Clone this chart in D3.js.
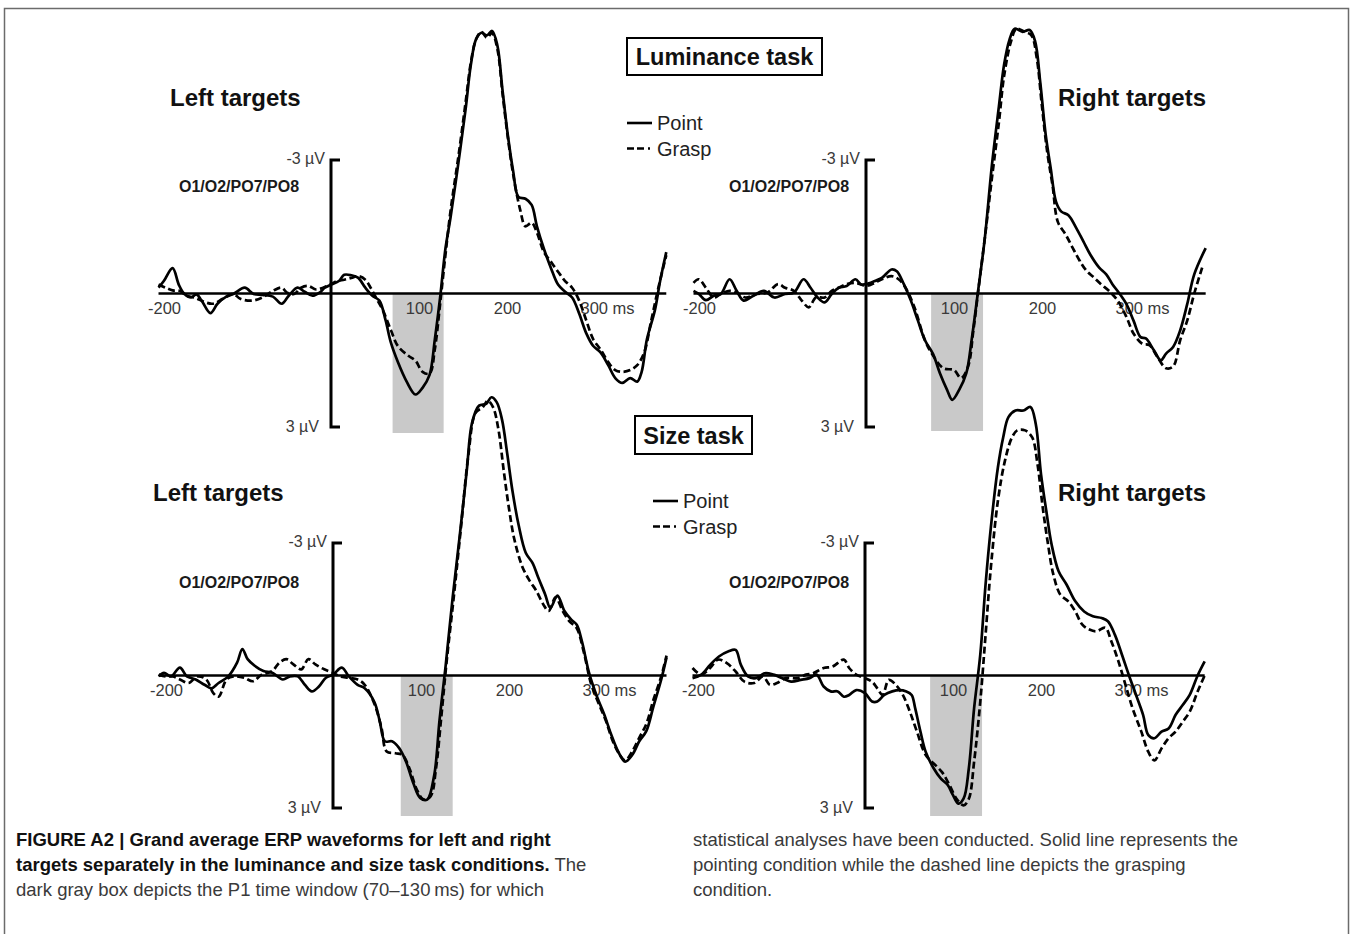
<!DOCTYPE html>
<html>
<head>
<meta charset="utf-8">
<script src="https://cdn.jsdelivr.net/npm/d3@7"></script>
<style>
  html, body { margin: 0; padding: 0; background: #fff; }
  svg { display: block; }
  text { font-family: "Liberation Sans", Arial, Helvetica, sans-serif; }
</style>
</head>
<body>
<svg id="chart" width="1352" height="934"></svg>
<script>
// ---------------- DATA (time in ms, amplitude in µV; negative plotted up) ----------------
const tickValues = [-200, 100, 200, 300];
const tickLabels = ["-200", "100", "200", "300 ms"];
const ampTicks = [-3, 3];
const ampLabels = ["-3 µV", "3 µV"];
const conditions = ["Point", "Grasp"];
const taskTitles = ["Luminance task", "Size task"];
const sideTitles = ["Left targets", "Right targets"];
const electrodeLabel = "O1/O2/PO7/PO8";
// P1 window (70–130 ms) as drawn in each panel
const shadeWindows = [[70, 128], [74, 133], [77, 136], [74, 133]];

const lumLeftPoint = [[-196,-0.13],[-190,-0.28],[-180,-0.57],[-173,-0.2],[-167,0],[-159,0.09],[-153,0.02],[-147,0.16],[-137,0.44],[-129,0.23],[-119,0.07],[-111,0.01],[-98,-0.13],[-88,0.01],[-78,0.03],[-66,0.07],[-56,0.23],[-48,0.05],[-38,-0.13],[-30,-0.04],[-21,0.05],[-13,-0.02],[-7,-0.13],[0,-0.2],[9,-0.28],[15,-0.42],[23,-0.41],[31,-0.35],[39,-0.13],[47,0.05],[55,0.16],[62,0.6],[68,1.1],[76,1.54],[86,1.98],[96,2.27],[104,2.12],[112,1.83],[118,1.03],[124,0.09],[130,-1.0],[136,-1.73],[145,-2.97],[153,-4.15],[159,-5.15],[165,-5.72],[171,-5.86],[177,-5.8],[183,-5.9],[189,-5.58],[195,-4.55],[201,-3.55],[207,-2.75],[213,-2.17],[221,-2.13],[228,-1.99],[234,-1.51],[242,-1.0],[250,-0.57],[258,-0.2],[266,-0.04],[274,0.09],[282,0.45],[290,0.89],[298,1.18],[306,1.32],[315,1.61],[323,1.9],[331,2.01],[340,1.9],[348,1.98],[353,1.76],[359,1.03],[368,0.38],[374,-0.28],[381,-0.93]];
const lumLeftGrasp = [[-196,-0.2],[-188,-0.13],[-180,-0.07],[-172,-0.06],[-164,0.05],[-156,0.09],[-135,0.23],[-123,0.12],[-111,0.01],[-103,0.12],[-90,0.16],[-78,0.09],[-66,-0.06],[-56,-0.13],[-50,-0.02],[-42,0.01],[-34,-0.13],[-26,-0.17],[-17,-0.09],[-9,-0.13],[-1,-0.2],[7,-0.28],[15,-0.31],[23,-0.35],[31,-0.39],[39,-0.31],[45,-0.13],[51,0.09],[59,0.38],[68,0.82],[76,1.18],[88,1.4],[96,1.51],[104,1.76],[112,1.8],[118,1.25],[124,0.23],[130,-0.86],[136,-1.88],[145,-3.11],[153,-4.3],[159,-5.2],[165,-5.72],[171,-5.88],[177,-5.75],[183,-5.85],[189,-5.5],[195,-4.48],[201,-3.5],[207,-2.68],[215,-1.88],[221,-1.51],[228,-1.59],[234,-1.37],[242,-0.93],[250,-0.71],[258,-0.49],[266,-0.28],[274,-0.13],[282,0.16],[290,0.6],[298,1.03],[306,1.25],[315,1.54],[323,1.72],[331,1.76],[340,1.72],[348,1.61],[356,1.32],[364,0.6],[372,-0.13],[381,-0.86]];

const lumRightPoint = [[-196,-0.06],[-190,0.01],[-182,0.15],[-173,0.05],[-165,0.01],[-155,-0.32],[-147,-0.06],[-139,0.16],[-128,0.05],[-116,-0.06],[-104,0.09],[-92,0.01],[-82,-0.02],[-71,-0.32],[-63,-0.13],[-55,0.09],[-47,0.2],[-39,0.01],[-31,-0.13],[-22,-0.17],[-12,-0.32],[-6,-0.21],[0,-0.21],[10,-0.28],[18,-0.35],[29,-0.54],[35,-0.5],[43,-0.21],[51,0.16],[59,0.61],[67,1.05],[76,1.35],[84,1.79],[92,2.16],[98,2.39],[106,2.16],[114,1.79],[120,1.05],[127,0],[135,-1.24],[143,-2.87],[151,-4.2],[157,-5.15],[163,-5.7],[169,-5.95],[178,-5.88],[186,-5.92],[192,-5.68],[198,-4.75],[204,-3.6],[210,-2.8],[216,-2.06],[222,-1.84],[230,-1.76],[239,-1.47],[247,-1.17],[255,-0.87],[265,-0.58],[273,-0.43],[280,-0.21],[288,0],[296,0.24],[304,0.61],[312,0.98],[318,1.01],[327,1.27],[335,1.5],[341,1.35],[349,1.2],[357,0.83],[365,0.24],[373,-0.43],[386,-1.02]];
const lumRightGrasp = [[-196,-0.24],[-190,-0.32],[-182,-0.13],[-173,0.09],[-165,0.01],[-155,-0.06],[-147,-0.02],[-137,0.09],[-124,0.01],[-112,-0.02],[-100,-0.21],[-92,-0.13],[-82,-0.06],[-73,0.16],[-65,0.31],[-57,0.09],[-47,0.09],[-39,-0.06],[-31,-0.13],[-22,-0.21],[-12,-0.24],[0,-0.17],[10,-0.24],[18,-0.32],[29,-0.39],[37,-0.32],[45,-0.13],[55,0.31],[67,1.05],[76,1.39],[88,1.68],[100,1.72],[108,1.9],[116,1.64],[122,0.83],[128,-0.13],[135,-1.24],[143,-2.58],[151,-3.84],[157,-4.9],[165,-5.68],[171,-5.95],[180,-5.88],[188,-5.8],[194,-5.3],[200,-4.2],[206,-3.17],[212,-2.43],[218,-1.61],[227,-1.32],[235,-1.02],[243,-0.73],[251,-0.5],[259,-0.36],[267,-0.21],[276,-0.06],[286,0.16],[296,0.53],[304,0.9],[314,1.13],[322,1.16],[331,1.42],[341,1.68],[349,1.64],[357,1.05],[365,0.61],[373,0],[382,-0.58]];

const sizeLeftPoint = [[-198,0.02],[-192,-0.06],[-184,0.02],[-174,-0.18],[-166,0.02],[-156,0.09],[-146,0.21],[-138,0.29],[-130,0.17],[-119,0.02],[-109,-0.29],[-103,-0.6],[-97,-0.37],[-89,-0.22],[-79,-0.1],[-69,-0.06],[-57,0.09],[-49,0.02],[-40,0.02],[-32,0.21],[-24,0.36],[-16,0.25],[-8,0.05],[0,-0.02],[10,-0.18],[18,0.02],[28,0.21],[36,0.29],[47,0.6],[53,1.02],[59,1.49],[67,1.49],[75,1.64],[83,1.95],[91,2.42],[99,2.77],[107,2.81],[115,2.26],[121,1.02],[128,-0.22],[136,-1.77],[144,-3.16],[152,-4.64],[158,-5.72],[166,-6.11],[174,-6.15],[180,-6.3],[186,-6.19],[192,-5.8],[198,-5.02],[204,-4.17],[211,-3.4],[219,-2.78],[227,-2.54],[233,-2.23],[241,-1.84],[247,-1.53],[255,-1.81],[263,-1.46],[271,-1.26],[277,-1.15],[283,-0.76],[291,-0.06],[300,0.48],[308,0.87],[316,1.33],[324,1.72],[332,1.95],[340,1.8],[348,1.49],[356,1.26],[364,0.71],[373,0.09],[379,-0.41]];
const sizeLeftGrasp = [[-198,-0.02],[-190,0.02],[-182,0.02],[-174,0.09],[-164,0.17],[-154,0.02],[-144,0.09],[-136,0.4],[-130,0.48],[-121,0.09],[-113,0.02],[-101,0.05],[-91,0.13],[-81,-0.02],[-69,-0.1],[-61,-0.29],[-53,-0.37],[-45,-0.25],[-36,-0.14],[-28,-0.37],[-20,-0.25],[-10,-0.14],[0,-0.06],[8,0.02],[18,0.05],[28,0.09],[36,0.21],[47,0.64],[55,1.18],[61,1.72],[71,1.76],[79,1.8],[87,2.11],[95,2.57],[103,2.81],[111,2.73],[117,2.11],[123,0.95],[129,-0.29],[138,-1.92],[146,-3.47],[154,-5.02],[162,-5.95],[170,-6.07],[176,-6.22],[182,-6.07],[188,-5.57],[194,-4.64],[200,-3.78],[206,-3.09],[215,-2.47],[223,-2.16],[231,-1.92],[239,-1.61],[245,-1.46],[253,-1.77],[261,-1.46],[269,-1.22],[277,-1.07],[285,-0.53],[293,0.17],[302,0.64],[310,1.02],[318,1.49],[326,1.8],[332,1.92],[340,1.72],[348,1.41],[356,1.1],[364,0.56],[373,0.02],[379,-0.45]];

const sizeRightPoint = [[-196,0.06],[-186,-0.02],[-176,-0.24],[-166,-0.43],[-155,-0.55],[-147,-0.58],[-141,-0.24],[-133,0.02],[-124,0.06],[-114,-0.05],[-104,-0.02],[-94,0.06],[-84,0.14],[-73,0.1],[-63,0.06],[-55,-0.02],[-47,0.25],[-39,0.36],[-31,0.36],[-24,0.48],[-18,0.44],[-10,0.33],[0,0.4],[8,0.59],[14,0.59],[22,0.44],[31,0.36],[39,0.33],[47,0.36],[53,0.44],[57,0.74],[63,1.27],[69,1.73],[78,2.1],[86,2.33],[94,2.48],[100,2.71],[106,2.9],[112,2.79],[118,2.1],[124,0.74],[131,-0.47],[137,-2.06],[143,-3.35],[151,-4.71],[157,-5.39],[163,-5.85],[171,-6.0],[180,-6.0],[188,-6.08],[194,-5.7],[200,-4.56],[206,-3.73],[212,-2.97],[220,-2.36],[229,-2.06],[239,-1.68],[249,-1.45],[259,-1.34],[269,-1.3],[276,-1.23],[284,-0.92],[292,-0.47],[300,0],[308,0.44],[316,0.89],[322,1.35],[329,1.42],[337,1.27],[345,1.2],[353,0.89],[361,0.67],[369,0.44],[378,0],[386,-0.32]];
const sizeRightGrasp = [[-196,-0.17],[-186,-0.02],[-176,-0.17],[-167,-0.36],[-157,-0.28],[-147,-0.09],[-137,0.14],[-126,0.17],[-116,0.02],[-108,0.21],[-100,0.17],[-90,0.06],[-77,0.06],[-67,-0.02],[-59,-0.05],[-47,-0.17],[-37,-0.2],[-24,-0.36],[-18,-0.17],[-10,-0.02],[0,0.06],[8,0.14],[14,0.29],[20,0.44],[27,0.1],[35,0.21],[43,0.44],[51,0.82],[59,1.27],[69,1.8],[80,2.03],[88,2.2],[96,2.48],[104,2.79],[112,2.94],[118,2.79],[124,1.95],[131,0.59],[137,-0.92],[143,-2.44],[151,-3.95],[159,-4.86],[167,-5.39],[173,-5.55],[182,-5.55],[190,-5.39],[196,-4.79],[202,-3.8],[208,-2.97],[214,-2.29],[222,-1.83],[231,-1.68],[239,-1.45],[247,-1.15],[255,-1.04],[263,-1.0],[273,-1.08],[280,-0.77],[288,-0.32],[296,0.21],[304,0.74],[314,1.27],[322,1.73],[329,1.92],[337,1.65],[345,1.42],[353,1.27],[361,1.05],[369,0.82],[378,0.36],[386,0]];

const panelSeries = [
  [lumLeftPoint, lumLeftGrasp],
  [lumRightPoint, lumRightGrasp],
  [sizeLeftPoint, sizeLeftGrasp],
  [sizeRightPoint, sizeRightGrasp]
];
const captionLeft = [
  [{t: "FIGURE A2 | Grand average ERP waveforms for left and right", b: true}],
  [{t: "targets separately in the luminance and size task conditions.", b: true}, {t: " The", b: false}],
  [{t: "dark gray box depicts the P1 time window (70–130\u2009ms) for which", b: false}]
];
const captionRight = [
  "statistical analyses have been conducted. Solid line represents the",
  "pointing condition while the dashed line depicts the grasping",
  "condition."
];

// ---------------- LAYOUT ----------------
const svg = d3.select("#chart");
const pxPerMs = 0.88;
const layout = [
  {x0: 331, zeroY: 293, top: 160, bot: 427, shadeBot: 433, xStart: -196, xEnd: 381, side: 0, tx: 170, ty: 106, ex: 239, ey: 192},
  {x0: 866, zeroY: 293, top: 160, bot: 427, shadeBot: 431, xStart: -196, xEnd: 386, side: 1, tx: 1058, ty: 106, ex: 789, ey: 192},
  {x0: 333, zeroY: 676, top: 543, bot: 808, shadeBot: 816, xStart: -198, xEnd: 379, side: 0, tx: 153, ty: 501, ex: 239, ey: 588},
  {x0: 865, zeroY: 676, top: 543, bot: 808, shadeBot: 816, xStart: -196, xEnd: 386, side: 1, tx: 1058, ty: 501, ex: 789, ey: 588}
];

// frame
svg.append("rect").attr("x", 4.5).attr("y", 8.5).attr("width", 1344).attr("height", 960)
  .attr("fill", "none").attr("stroke", "#6b6b6b").attr("stroke-width", 1.5);

const dashes = ["none", "7,3.5"];
const labelColor = "#3a3a3a";

layout.forEach((L, i) => {
  const x = d3.scaleLinear().domain([0, 100]).range([L.x0, L.x0 + 100 * pxPerMs]);
  const y = d3.scaleLinear().domain(ampTicks).range([L.top, L.bot]);
  const g = svg.append("g");

  // shaded P1 window
  const w = shadeWindows[i];
  g.append("rect")
    .attr("x", x(w[0])).attr("y", y(0))
    .attr("width", x(w[1]) - x(w[0])).attr("height", L.shadeBot - y(0))
    .attr("fill", "#c9c9c9");

  // x axis (baseline) with labels
  const xAxis = d3.axisBottom(x).tickValues(tickValues)
    .tickFormat((d, k) => tickLabels[k]).tickSize(0).tickPadding(9);
  const ax = g.append("g").attr("transform", `translate(0,${y(0)})`).call(xAxis);
  ax.select(".domain").remove();
  ax.append("line").attr("x1", x(L.xStart)).attr("x2", x(L.xEnd))
    .attr("stroke", "#000").attr("stroke-width", 2.6);
  ax.selectAll(".tick text")
    .attr("font-size", 16.5).attr("fill", labelColor)
    .attr("font-family", "Liberation Sans, Arial, sans-serif")
    .each(function(d) {
      const t = d3.select(this);
      if (d === 300) t.attr("text-anchor", "start").attr("dx", -15);
      if (d === -200) t.attr("dx", 9);
    });

  // vertical bracket axis
  const ya = g.append("g");
  ya.append("path")
    .attr("d", `M${L.x0 + 9},${y(-3)} H${L.x0} V${y(3)} H${L.x0 + 9}`)
    .attr("fill", "none").attr("stroke", "#000").attr("stroke-width", 3);
  ya.append("text").attr("x", L.x0 - 6).attr("y", y(-3) + 4)
    .attr("text-anchor", "end").attr("font-size", 16).attr("fill", labelColor).text(ampLabels[0]);
  ya.append("text").attr("x", L.x0 - 12).attr("y", y(3) + 5)
    .attr("text-anchor", "end").attr("font-size", 16).attr("fill", labelColor).text(ampLabels[1]);

  // electrode label
  g.append("text").attr("x", L.ex).attr("y", L.ey).attr("text-anchor", "middle")
    .attr("font-size", 16).attr("font-weight", "bold").attr("fill", "#1a1a1a").text(electrodeLabel);

  // side title
  g.append("text").attr("x", L.tx).attr("y", L.ty)
    .attr("font-size", 24).attr("font-weight", "bold").attr("fill", "#111").text(sideTitles[L.side]);

  // waveforms
  const line = d3.line().x(d => x(d[0])).y(d => y(d[1])).curve(d3.curveCatmullRom.alpha(0.5));
  panelSeries[i].forEach((s, k) => {
    g.append("path").datum(s).attr("d", line)
      .attr("fill", "none").attr("stroke", "#000").attr("stroke-width", 2.7)
      .attr("stroke-dasharray", dashes[k]).attr("stroke-linejoin", "round");
  });
});

// task title boxes and legends
const taskBoxes = [
  {x: 627, y: 38, w: 195, h: 37, lx: 627, ly: 123},
  {x: 635, y: 416, w: 117, h: 38, lx: 653, ly: 501}
];
taskBoxes.forEach((b, i) => {
  svg.append("rect").attr("x", b.x).attr("y", b.y).attr("width", b.w).attr("height", b.h)
    .attr("fill", "#fff").attr("stroke", "#000").attr("stroke-width", 2);
  svg.append("text").attr("x", b.x + b.w / 2).attr("y", b.y + b.h / 2 + 8.5)
    .attr("text-anchor", "middle").attr("font-size", 23.5).attr("font-weight", "bold").attr("fill", "#111")
    .text(taskTitles[i]);
  conditions.forEach((c, k) => {
    const yy = b.ly + k * 25.5;
    svg.append("line").attr("x1", b.lx).attr("x2", b.lx + (k ? 28 : 25)).attr("y1", yy).attr("y2", yy)
      .attr("stroke", "#000").attr("stroke-width", 2.6)
      .attr("stroke-dasharray", k ? "7,3,7,4,2" : "none");
    svg.append("text").attr("x", b.lx + 30).attr("y", yy + 7)
      .attr("font-size", 20).attr("fill", "#222").text(c);
  });
});

// caption
captionLeft.forEach((parts, r) => {
  const t = svg.append("text").attr("x", 16).attr("y", 846 + r * 25).attr("font-size", 18.5).attr("fill", "#333");
  parts.forEach(p => t.append("tspan").attr("font-weight", p.b ? "bold" : "normal")
    .attr("fill", p.b ? "#111" : "#3a3a3a").text(p.t));
});
captionRight.forEach((s, r) => {
  svg.append("text").attr("x", 693).attr("y", 846 + r * 25).attr("font-size", 18.5).attr("fill", "#3a3a3a").text(s);
});
</script>
</body>
</html>
